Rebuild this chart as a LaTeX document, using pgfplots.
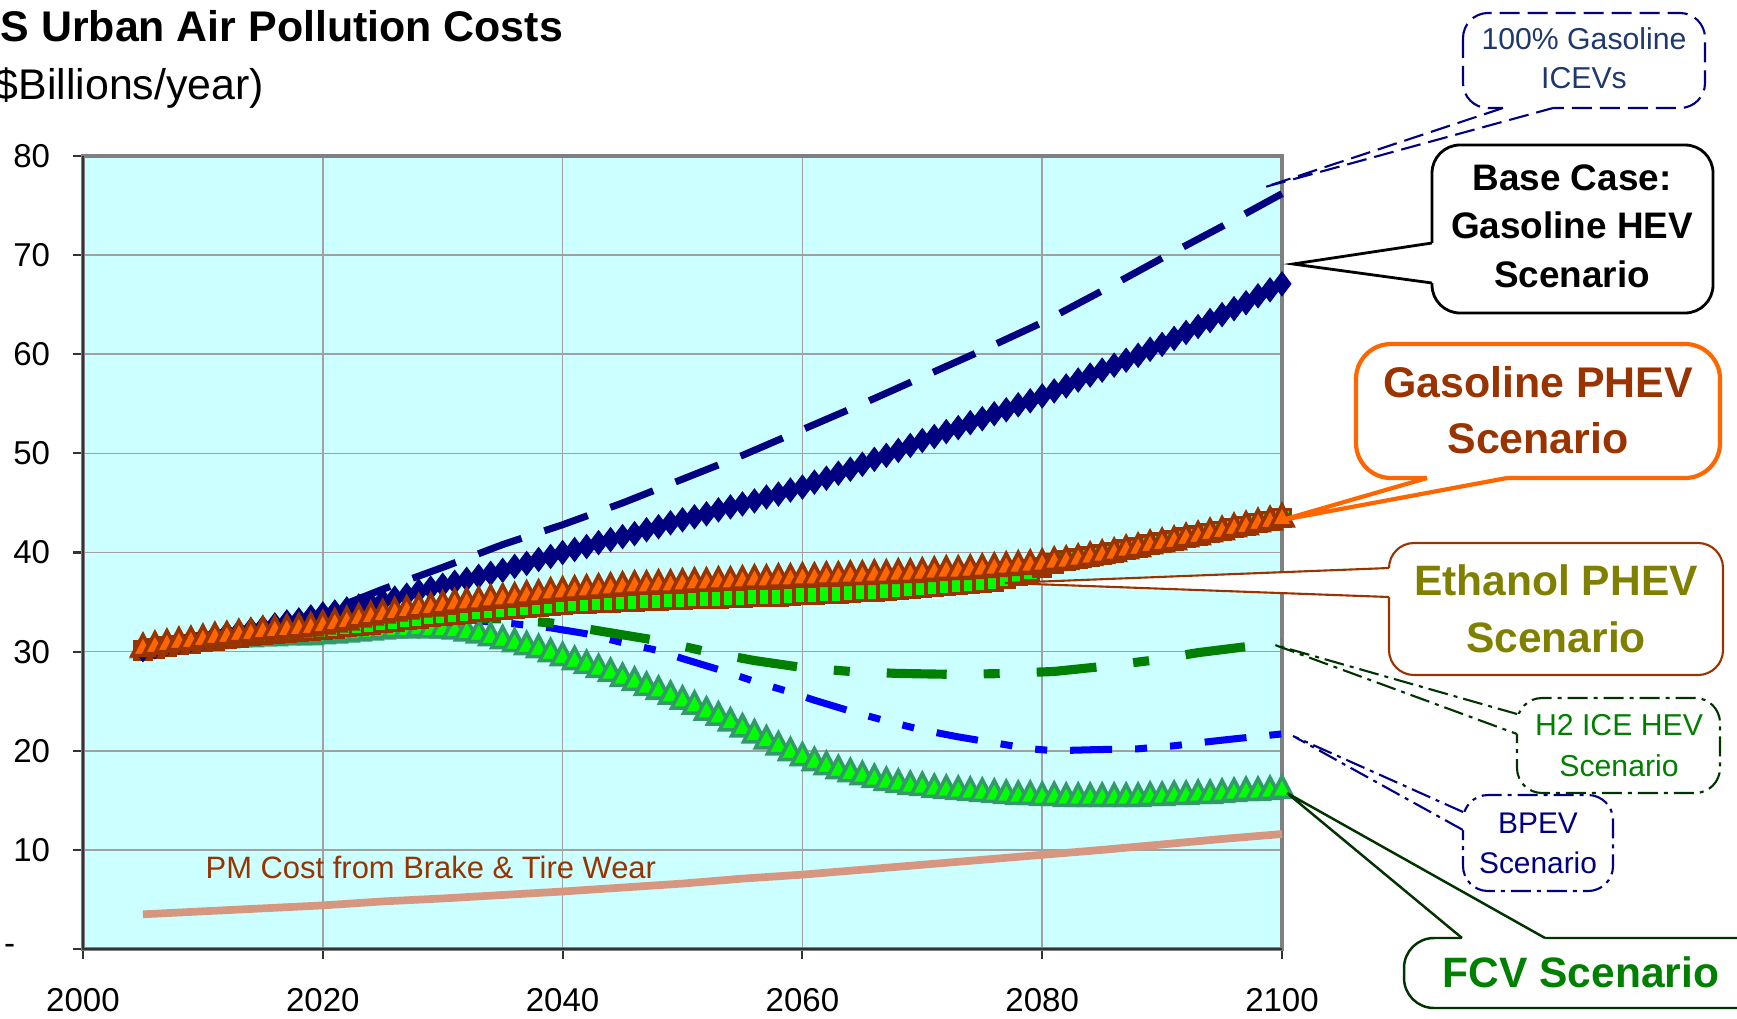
\documentclass[border=0pt]{standalone}
\usepackage{fontspec}
\setmainfont{Liberation Sans}
\usepackage{pgfplots}
\pgfplotsset{compat=1.18}
\definecolor{navyc}{HTML}{000080}
\definecolor{orangec}{HTML}{FF6600}
\definecolor{brownc}{HTML}{993300}
\definecolor{limec}{HTML}{00FF00}
\definecolor{seagr}{HTML}{339966}
\definecolor{greenc}{HTML}{008000}
\definecolor{dkgreen}{HTML}{003300}
\definecolor{bluec}{HTML}{0000FF}
\definecolor{olivec}{HTML}{808000}
\definecolor{bgc}{HTML}{CCFFFF}
\definecolor{pmcol}{HTML}{D69680}
\definecolor{icevtxt}{HTML}{1F386E}
\definecolor{gridc}{HTML}{A0A0A0}
\newcommand\fs[1]{\fontsize{#1}{#1}\selectfont}
\begin{document}
\begin{tikzpicture}
\path[use as bounding box] (0,0) rectangle (173.7mm,101.8mm);
\begin{axis}[
  at={(8.3mm,6.9mm)}, anchor=south west,
  scale only axis, width=119.9mm, height=79.3mm,
  xmin=2000, xmax=2100, ymin=0, ymax=80,
  clip=false,
  axis background/.style={fill=bgc},
  xtick={2000,2020,2040,2060,2080,2100},
  xticklabels={2000,2020,2040,2060,2080,2100},
  ytick={0,10,20,30,40,50,60,70,80},
  yticklabels={{\makebox[0pt][r]{-\hspace{3.5mm}}},10,20,30,40,50,60,70,80},
  tick label style={font=\fs{9.4}},
  xticklabel shift=1.7mm,
  yticklabel shift=1.05mm,
  tick align=outside, tick pos=left,
  major tick length=1mm,
  tick style={black!80, line width=0.6pt},
  grid=major,
  major grid style={gridc, line width=0.45pt},
  axis line style={draw=gray, line width=0.9pt},
]
% PM line
\addplot[pmcol, line width=2.2pt, no marks] coordinates {
(2005,3.5)(2010,3.8)(2015,4.1)(2020,4.4)(2025,4.8)(2030,5.1)(2035,5.45)(2040,5.8)(2045,6.2)(2050,6.6)(2055,7.1)(2060,7.5)(2065,8.0)(2070,8.5)(2075,9.0)(2080,9.5)(2085,10.0)(2090,10.55)(2095,11.1)(2100,11.6)};
% FCV
\addplot[only marks, mark=triangle*, mark size=3.6pt, mark options={fill=limec, draw=seagr, line width=1pt, yscale=1.1}] coordinates {
(2005,30.2)(2006,30.4)(2007,30.6)(2008,30.8)(2009,30.9)(2010,31.0)(2011,31.1)(2012,31.2)(2013,31.3)(2014,31.3)
(2015,31.4)(2016,31.4)(2017,31.5)(2018,31.5)(2019,31.5)(2020,31.6)(2021,31.7)(2022,31.8)(2023,31.9)(2024,32.0)
(2025,32.1)(2026,32.2)(2027,32.2)(2028,32.3)(2029,32.2)(2030,32.2)(2031,32.1)(2032,31.9)(2033,31.7)(2034,31.4)
(2035,31.1)(2036,30.8)(2037,30.5)(2038,30.2)(2039,29.8)(2040,29.4)(2041,29.0)(2042,28.6)(2043,28.2)(2044,27.8)
(2045,27.3)(2046,26.9)(2047,26.4)(2048,26.0)(2049,25.5)(2050,25.0)(2051,24.5)(2052,23.9)(2053,23.4)(2054,22.8)
(2055,22.2)(2056,21.6)(2057,21.0)(2058,20.4)(2059,19.8)(2060,19.3)(2061,18.8)(2062,18.4)(2063,18.0)(2064,17.7)
(2065,17.4)(2066,17.1)(2067,16.8)(2068,16.6)(2069,16.4)(2070,16.3)(2071,16.1)(2072,16.0)(2073,15.9)(2074,15.8)
(2075,15.7)(2076,15.6)(2077,15.5)(2078,15.4)(2079,15.4)(2080,15.3)(2081,15.3)(2082,15.2)(2083,15.2)(2084,15.2)
(2085,15.2)(2086,15.2)(2087,15.2)(2088,15.2)(2089,15.3)(2090,15.3)(2091,15.4)(2092,15.4)(2093,15.5)(2094,15.5)
(2095,15.6)(2096,15.7)(2097,15.8)(2098,15.8)(2099,15.9)(2100,16.0)};
% BPEV
\addplot[bluec, line width=2pt, no marks, dash pattern=on 4.2mm off 2.3mm on 1.2mm off 2.3mm on 1.2mm off 2.3mm] coordinates {
(2005,30.2)(2010,31.2)(2015,31.8)(2020,32.3)(2025,32.8)(2030,33.1)(2033,33.1)(2036,32.8)(2039,32.4)(2042,31.8)(2045,30.9)(2048,30.1)(2050,29.3)(2053,28.2)(2056,27.0)(2059,25.9)(2061,25.1)(2064,24.0)(2067,23.0)(2070,22.1)(2073,21.4)(2076,20.8)(2079,20.2)(2081,20.0)(2084,20.1)(2088,20.2)(2091,20.5)(2093,20.8)(2096,21.2)(2100,21.7)};
% H2 ICE HEV
\addplot[greenc, line width=2.6pt, no marks, dash pattern=on 6mm off 3.7mm on 1.6mm off 3.7mm] coordinates {
(2005,30.2)(2010,31.2)(2015,31.8)(2020,32.3)(2025,33.0)(2030,33.4)(2035,33.3)(2039,32.9)(2043,32.1)(2048,31.1)(2052,30.0)(2056,29.1)(2060,28.4)(2064,28.0)(2068,27.8)(2073,27.7)(2077,27.8)(2081,28.0)(2085,28.5)(2089,29.1)(2093,29.9)(2097,30.5)(2100,30.9)};
% Ethanol PHEV
\addplot[only marks, mark=square*, mark size=2.4pt, mark options={fill=limec, draw=brownc, line width=1pt}] coordinates {
(2005,30.1)(2006,30.3)(2007,30.5)(2008,30.7)(2009,30.8)(2010,31.0)(2011,31.1)(2012,31.3)(2013,31.4)(2014,31.6)
(2015,31.7)(2016,31.8)(2017,31.9)(2018,32.0)(2019,32.1)(2020,32.2)(2021,32.3)(2022,32.5)(2023,32.6)(2024,32.7)
(2025,32.9)(2026,33.0)(2027,33.2)(2028,33.3)(2029,33.5)(2030,33.6)(2031,33.7)(2032,33.8)(2033,34.0)(2034,34.1)
(2035,34.2)(2036,34.3)(2037,34.4)(2038,34.5)(2039,34.6)(2040,34.7)(2041,34.8)(2042,34.8)(2043,34.9)(2044,34.9)
(2045,35.0)(2046,35.0)(2047,35.1)(2048,35.1)(2049,35.2)(2050,35.2)(2051,35.3)(2052,35.3)(2053,35.3)(2054,35.4)
(2055,35.4)(2056,35.5)(2057,35.5)(2058,35.5)(2059,35.6)(2060,35.7)(2061,35.7)(2062,35.8)(2063,35.8)(2064,35.9)
(2065,36.0)(2066,36.0)(2067,36.1)(2068,36.2)(2069,36.3)(2070,36.4)(2071,36.5)(2072,36.6)(2073,36.7)(2074,36.8)
(2075,36.9)(2076,37.0)(2077,37.3)(2078,37.6)(2079,38.0)(2080,38.5)(2081,38.9)(2082,39.2)(2083,39.4)(2084,39.6)
(2085,39.8)(2086,40.0)(2087,40.3)(2088,40.5)(2089,40.8)(2090,41.0)(2091,41.2)(2092,41.5)(2093,41.7)(2094,42.0)
(2095,42.2)(2096,42.5)(2097,42.7)(2098,43.0)(2099,43.2)(2100,43.5)};
% Base case gasoline HEV
\addplot[only marks, mark=diamond*, mark size=3.4pt, mark options={fill=navyc, draw=navyc, line width=0.3pt}] coordinates {
(2005,30.2)(2006,30.5)(2007,30.8)(2008,31.0)(2009,31.2)(2010,31.4)(2011,31.6)(2012,31.8)(2013,32.0)(2014,32.2)
(2015,32.4)(2016,32.7)(2017,33.0)(2018,33.2)(2019,33.5)(2020,33.8)(2021,34.0)(2022,34.3)(2023,34.6)(2024,34.8)
(2025,35.1)(2026,35.4)(2027,35.7)(2028,36.1)(2029,36.4)(2030,36.7)(2031,37.0)(2032,37.3)(2033,37.6)(2034,37.9)
(2035,38.2)(2036,38.6)(2037,38.9)(2038,39.3)(2039,39.6)(2040,40.0)(2041,40.3)(2042,40.6)(2043,41.0)(2044,41.3)
(2045,41.6)(2046,41.9)(2047,42.3)(2048,42.6)(2049,43.0)(2050,43.3)(2051,43.6)(2052,43.9)(2053,44.3)(2054,44.6)
(2055,44.9)(2056,45.2)(2057,45.6)(2058,45.9)(2059,46.3)(2060,46.6)(2061,47.1)(2062,47.5)(2063,48.0)(2064,48.4)
(2065,48.9)(2066,49.4)(2067,49.8)(2068,50.3)(2069,50.8)(2070,51.3)(2071,51.7)(2072,52.2)(2073,52.6)(2074,53.1)
(2075,53.5)(2076,54.0)(2077,54.4)(2078,54.9)(2079,55.3)(2080,55.8)(2081,56.3)(2082,56.8)(2083,57.4)(2084,57.9)
(2085,58.4)(2086,58.9)(2087,59.4)(2088,59.9)(2089,60.5)(2090,61.0)(2091,61.6)(2092,62.2)(2093,62.8)(2094,63.4)
(2095,64.0)(2096,64.6)(2097,65.2)(2098,65.9)(2099,66.5)(2100,67.1)};
% 100% gasoline ICEVs
\addplot[navyc, line width=2pt, no marks, dash pattern=on 4.6mm off 2.4mm] coordinates {
(2005,30.2)(2010,31.4)(2015,32.4)(2020,33.9)(2025,36.3)(2030,38.5)(2035,40.8)(2040,42.8)(2045,45.0)(2050,47.4)(2055,49.8)(2060,52.4)(2065,55.0)(2070,57.7)(2075,60.4)(2080,63.2)(2085,66.4)(2090,69.7)(2095,72.9)(2100,76.2)};
% Gasoline PHEV
\addplot[only marks, mark=triangle*, mark size=3.6pt, mark options={fill=orangec, draw=brownc, line width=1pt, yscale=1.1}] coordinates {
(2005,30.3)(2006,30.5)(2007,30.7)(2008,30.9)(2009,31.0)(2010,31.2)(2011,31.4)(2012,31.5)(2013,31.7)(2014,31.8)
(2015,32.0)(2016,32.1)(2017,32.2)(2018,32.3)(2019,32.4)(2020,32.6)(2021,32.8)(2022,33.0)(2023,33.3)(2024,33.5)
(2025,33.7)(2026,33.9)(2027,34.1)(2028,34.3)(2029,34.4)(2030,34.6)(2031,34.8)(2032,34.9)(2033,35.0)(2034,35.2)
(2035,35.3)(2036,35.4)(2037,35.6)(2038,35.7)(2039,35.9)(2040,36.0)(2041,36.1)(2042,36.2)(2043,36.3)(2044,36.4)
(2045,36.5)(2046,36.6)(2047,36.6)(2048,36.7)(2049,36.7)(2050,36.8)(2051,36.9)(2052,36.9)(2053,37.0)(2054,37.0)
(2055,37.1)(2056,37.2)(2057,37.2)(2058,37.3)(2059,37.3)(2060,37.4)(2061,37.4)(2062,37.5)(2063,37.5)(2064,37.6)
(2065,37.6)(2066,37.7)(2067,37.7)(2068,37.8)(2069,37.8)(2070,37.9)(2071,38.0)(2072,38.1)(2073,38.1)(2074,38.2)
(2075,38.3)(2076,38.4)(2077,38.5)(2078,38.6)(2079,38.7)(2080,38.8)(2081,39.0)(2082,39.1)(2083,39.3)(2084,39.5)
(2085,39.7)(2086,39.9)(2087,40.2)(2088,40.4)(2089,40.7)(2090,40.9)(2091,41.1)(2092,41.4)(2093,41.6)(2094,41.9)
(2095,42.1)(2096,42.4)(2097,42.6)(2098,42.9)(2099,43.1)(2100,43.4)};
\draw[black!80, line width=0.7pt] (rel axis cs:0,1) -- (rel axis cs:0,0) -- (rel axis cs:1,0);
\end{axis}
\begin{scope}[x=0.1mm, y=-0.1mm, shift={(0mm,101.8mm)}]
% titles
\node[anchor=base west, inner sep=0, font=\bfseries\fs{12.2}] at (0,42) {S Urban Air Pollution Costs};
\node[anchor=base west, inner sep=0, font=\fs{12.2}] at (-6,100) {\$Billions/year)};
% PM label
\node[anchor=base west, inner sep=0, text=brownc, font=\fs{8.8}] at (205,878) {PM Cost from Brake \& Tire Wear};
% A: 100% gasoline ICEVs
\draw[navyc, line width=0.6pt, dash pattern=on 2mm off 0.8mm, fill=white, rounded corners=2.5mm] (1463,13) rectangle (1705,108);
\fill[white] (1503,108) -- (1265,187) -- (1553,108) -- (1553,100) -- (1503,100) -- cycle;
\draw[navyc, line width=0.6pt, dash pattern=on 2mm off 0.8mm] (1503,108) -- (1265,187) -- (1553,108);
\node[anchor=base, inner sep=0, text=icevtxt, font=\fs{8.6}] at (1584,50) {100\% Gasoline};
\node[anchor=base, inner sep=0, text=icevtxt, font=\fs{8.6}] at (1584,89) {ICEVs};
% B: Base case
\draw[black, line width=0.8pt, fill=white, rounded corners=2.8mm] (1432,145) rectangle (1713,313);
\fill[white] (1432,243) -- (1293,264) -- (1432,283) -- (1442,283) -- (1442,243) -- cycle;
\draw[black, line width=0.8pt] (1432,243) -- (1293,264) -- (1432,283);
\node[anchor=base, inner sep=0, font=\bfseries\fs{10.5}] at (1572,190) {Base Case:};
\node[anchor=base, inner sep=0, font=\bfseries\fs{10.5}] at (1572,238) {Gasoline HEV};
\node[anchor=base, inner sep=0, font=\bfseries\fs{10.5}] at (1572,287) {Scenario};
% C: Gasoline PHEV
\draw[orangec, line width=1.2pt, fill=white, rounded corners=3.5mm] (1356,344) rectangle (1720,478);
\fill[white] (1427,478) -- (1282,520) -- (1507,478) -- (1507,468) -- (1427,468) -- cycle;
\draw[orangec, line width=1.2pt] (1427,478) -- (1282,520) -- (1507,478);
\node[anchor=base, inner sep=0, text=brownc, font=\bfseries\fs{12.2}] at (1538,397) {Gasoline PHEV};
\node[anchor=base, inner sep=0, text=brownc, font=\bfseries\fs{12.2}] at (1538,453) {Scenario};
% D: Ethanol PHEV
\draw[brownc, line width=0.6pt, fill=white, rounded corners=2.5mm] (1389,543) rectangle (1723,675);
\fill[white] (1389,568) -- (1005,583) -- (1389,597) -- (1399,597) -- (1399,568) -- cycle;
\draw[brownc, line width=0.6pt] (1389,568) -- (1005,583) -- (1389,597);
\node[anchor=base, inner sep=0, text=olivec, font=\bfseries\fs{12.1}] at (1556,595) {Ethanol PHEV};
\node[anchor=base, inner sep=0, text=olivec, font=\bfseries\fs{12.1}] at (1556,652) {Scenario};
% E: H2 ICE HEV
\draw[dkgreen, line width=0.6pt, dash pattern=on 2mm off 0.6mm on 0.4mm off 0.6mm, fill=white, rounded corners=2.5mm] (1517,698) rectangle (1720,793);
\fill[white] (1517,714) -- (1275,645) -- (1517,734) -- (1527,734) -- (1527,714) -- cycle;
\draw[dkgreen, line width=0.6pt, dash pattern=on 2mm off 0.6mm on 0.4mm off 0.6mm] (1517,714) -- (1275,645) -- (1517,734);
\node[anchor=base, inner sep=0, text=greenc, font=\fs{8.6}] at (1619,735) {H2 ICE HEV};
\node[anchor=base, inner sep=0, text=greenc, font=\fs{8.6}] at (1619,776) {Scenario};
% F: BPEV
\draw[navyc, line width=0.6pt, dash pattern=on 2mm off 0.6mm on 0.4mm off 0.6mm, fill=white, rounded corners=2.5mm] (1463,795) rectangle (1613,891);
\fill[white] (1463,812) -- (1293,736) -- (1463,830) -- (1473,830) -- (1473,812) -- cycle;
\draw[navyc, line width=0.6pt, dash pattern=on 2mm off 0.6mm on 0.4mm off 0.6mm] (1463,812) -- (1293,736) -- (1463,830);
\node[anchor=base, inner sep=0, text=navyc, font=\fs{8.5}] at (1538,833) {BPEV};
\node[anchor=base, inner sep=0, text=navyc, font=\fs{8.5}] at (1538,873) {Scenario};
% G: FCV
\draw[dkgreen, line width=0.7pt, fill=white, rounded corners=3mm] (1404,938) rectangle (1770,1008);
\fill[white] (1462,938) -- (1287,793) -- (1545,938) -- (1545,946) -- (1462,946) -- cycle;
\draw[dkgreen, line width=0.7pt] (1462,938) -- (1287,793) -- (1545,938);
\node[anchor=base, inner sep=0, text=greenc, font=\bfseries\fs{12.1}] at (1581,987) {FCV Scenario};
\end{scope}
\end{tikzpicture}
\end{document}
